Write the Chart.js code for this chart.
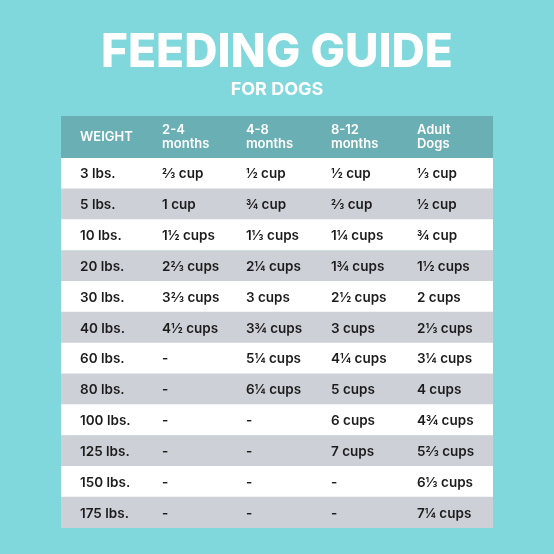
<!DOCTYPE html>
<html><head><meta charset="utf-8">
<script src="https://cdn.jsdelivr.net/npm/chart.js@4"></script>
<style>html,body{margin:0;background:#80d8dc}#c{display:block}</style>
</head><body>
<div style="width:554px;height:554px"><canvas id="c"></canvas></div>
<script>
/*====== data =======*/
const headers = ['WEIGHT', '2-4\nmonths', '4-8\nmonths', '8-12\nmonths', 'Adult\nDogs'];
const weights = ['3 lbs.', '5 lbs.', '10 lbs.', '20 lbs.', '30 lbs.', '40 lbs.', '60 lbs.', '80 lbs.', '100 lbs.', '125 lbs.', '150 lbs.', '175 lbs.'];
const months2to4 = ['⅔ cup', '1 cup', '1½ cups', '2⅔ cups', '3⅔ cups', '4½ cups', '-', '-', '-', '-', '-', '-'];
const months4to8 = ['½ cup', '¾ cup', '1⅓ cups', '2¼ cups', '3 cups', '3¾ cups', '5¼ cups', '6¼ cups', '-', '-', '-', '-'];
const months8to12 = ['½ cup', '⅔ cup', '1¼ cups', '1¾ cups', '2½ cups', '3 cups', '4¼ cups', '5 cups', '6 cups', '7 cups', '-', '-'];
const adultDogs = ['⅓ cup', '½ cup', '¾ cup', '1½ cups', '2 cups', '2⅓ cups', '3¼ cups', '4 cups', '4¾ cups', '5⅔ cups', '6⅓ cups', '7¼ cups'];

const columns = [weights, months2to4, months4to8, months8to12, adultDogs];
const colX = [0.044, 0.234, 0.428, 0.625, 0.824];
const FONT = '"Inter", "Lato", sans-serif';

/*====== table plugin =======*/
const tablePlugin = {
  id: 'table',
  afterDraw(chart) {
    const ctx = chart.ctx, a = chart.chartArea, y = chart.scales.y;
    ctx.save();
    // title
    ctx.fillStyle = '#ffffff';
    ctx.textAlign = 'center';
    ctx.textBaseline = 'middle';
    ctx.font = '800 46px ' + FONT;
    ctx.fillText('FEEDING GUIDE', 277, 53);
    ctx.font = '700 18px ' + FONT;
    ctx.fillText('FOR DOGS', 277, 90);
    // header
    ctx.fillStyle = '#69afb3';
    ctx.fillRect(a.left, 116, a.right - a.left, a.top - 116);
    ctx.fillStyle = '#ffffff';
    ctx.textAlign = 'left';
    ctx.font = '600 13px ' + FONT;
    headers.forEach((h, i) => {
      const x = a.left + colX[i] * (a.right - a.left);
      const lines = h.split('\n');
      lines.forEach((l, j) => {
        const yy = lines.length === 1 ? 137 : 130 + j * 14;
        ctx.fillText(l, x, yy);
      });
    });
    // cells
    ctx.fillStyle = '#1c1c1c';
    ctx.font = '600 13.5px ' + FONT;
    columns.forEach((col, i) => {
      const x = a.left + colX[i] * (a.right - a.left);
      col.forEach((v, r) => ctx.fillText(v, x, y.getPixelForValue(r) + 1));
    });
    ctx.restore();
  }
};

new Chart(document.getElementById('c'), {
  type: 'bar',
  data: {
    labels: weights,
    datasets: [{
      data: weights.map(() => 1),
      backgroundColor: weights.map((w, i) => i % 2 ? '#cdd0d6' : '#ffffff'),
      barPercentage: 1,
      categoryPercentage: 1
    }]
  },
  options: {
    indexAxis: 'y',
    responsive: true,
    maintainAspectRatio: false,
    animation: false,
    layout: { padding: { left: 61, right: 61, top: 158, bottom: 26 } },
    plugins: { legend: { display: false }, tooltip: { enabled: false } },
    scales: {
      x: { display: false, min: 0, max: 1 },
      y: { display: false }
    }
  },
  plugins: [tablePlugin]
});
</script>
</body></html>
